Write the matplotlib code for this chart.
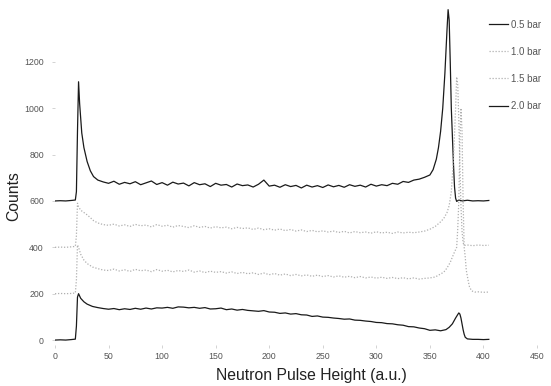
import matplotlib
matplotlib.use("Agg")
import matplotlib.pyplot as plt

plt.rcParams['font.family'] = ['Liberation Sans', 'DejaVu Sans']

# spectra (each curve offset by 200 counts)
x_05 = [0, 5, 10, 15, 19, 20, 21, 22, 23, 25, 27, 30, 33, 36, 40, 45, 50, 55, 60, 65, 70, 75, 80, 85, 90, 95,
        100, 105, 110, 115, 120, 125, 130, 135, 140, 145, 150, 155, 160, 165, 170, 175, 180, 185, 190, 195,
        200, 205, 210, 215, 220, 225, 230, 235, 240, 245, 250, 255, 260, 265, 270, 275, 280, 285, 290, 295,
        300, 305, 310, 315, 320, 325, 330, 335, 340, 345, 350, 353, 356, 358, 360, 362, 364, 366, 367, 368,
        369, 370, 371, 372, 373, 374, 375, 377, 380, 385, 390, 395, 400, 405]
y_05 = [600, 601, 600, 602, 604, 640, 900, 1114, 1020, 893, 830, 770, 730, 705, 690, 682, 676, 685, 672, 680,
        674, 683, 670, 678, 686, 671, 679, 668, 681, 673, 677, 665, 679, 670, 674, 662, 676, 668, 671, 660,
        673, 666, 669, 660, 672, 690, 664, 668, 659, 670, 662, 667, 656, 668, 660, 666, 658, 669, 661, 667,
        659, 670, 663, 668, 660, 672, 664, 670, 666, 676, 672, 684, 680, 690, 694, 702, 712, 735, 780, 830,
        900, 1000, 1150, 1340, 1425, 1380, 1200, 1000, 880, 760, 660, 612, 598, 604, 600, 603, 600, 601,
        600, 602]

x_10 = [0, 5, 10, 15, 19, 20, 21, 22, 24, 27, 30, 33, 36, 40, 45, 50, 55, 60, 65, 70, 75, 80, 85, 90, 95,
        100, 105, 110, 115, 120, 125, 130, 135, 140, 145, 150, 155, 160, 165, 170, 175, 180, 185, 190, 195,
        200, 205, 210, 215, 220, 225, 230, 235, 240, 245, 250, 255, 260, 265, 270, 275, 280, 285, 290, 295,
        300, 305, 310, 315, 320, 325, 330, 335, 340, 345, 350, 355, 360, 363, 366, 368, 370, 372, 374, 375,
        376, 377, 378, 379, 380, 381, 382, 385, 390, 395, 400, 405]
y_10 = [400, 401, 400, 402, 404, 450, 590, 575, 560, 550, 540, 528, 515, 505, 498, 495, 500, 492, 497, 490,
        499, 493, 496, 488, 498, 491, 495, 487, 494, 490, 485, 493, 486, 490, 483, 489, 484, 487, 480, 486,
        481, 484, 477, 483, 476, 480, 474, 479, 472, 477, 470, 475, 468, 473, 467, 471, 466, 470, 464, 469,
        462, 468, 463, 466, 461, 467, 462, 465, 460, 466, 462, 465, 463, 466, 470, 478, 490, 510, 525, 550,
        580, 640, 780, 1000, 1135, 1100, 950, 750, 580, 470, 420, 408, 410, 407, 410, 408, 409]

x_15 = [0, 5, 10, 15, 19, 20, 21, 22, 24, 27, 30, 35, 40, 45, 50, 55, 60, 65, 70, 75, 80, 85, 90, 95,
        100, 105, 110, 115, 120, 125, 130, 135, 140, 145, 150, 155, 160, 165, 170, 175, 180, 185, 190, 195,
        200, 205, 210, 215, 220, 225, 230, 235, 240, 245, 250, 255, 260, 265, 270, 275, 280, 285, 290, 295,
        300, 305, 310, 315, 320, 325, 330, 335, 340, 345, 350, 355, 360, 363, 366, 369, 371, 373, 375, 376,
        377, 378, 379, 380, 381, 382, 383, 384, 386, 387, 389, 392, 395, 400, 405]
y_15 = [200, 201, 200, 201, 203, 260, 410, 400, 370, 345, 330, 315, 308, 302, 300, 306, 298, 303, 296, 305,
        299, 302, 295, 304, 297, 301, 294, 300, 296, 302, 293, 298, 291, 297, 292, 295, 289, 294, 287, 292,
        286, 290, 283, 289, 282, 287, 280, 285, 278, 283, 277, 281, 275, 280, 274, 278, 272, 277, 271, 275,
        269, 274, 268, 272, 267, 271, 266, 270, 265, 269, 264, 268, 263, 266, 268, 272, 285, 293, 311, 335,
        358, 380, 400, 480, 600, 850, 1000, 900, 600, 400, 358, 300, 250, 229, 212, 207, 208, 206, 207]

x_20 = [0, 5, 10, 15, 19, 20, 21, 22, 24, 27, 30, 35, 40, 45, 50, 55, 60, 65, 70, 75, 80, 85, 90, 95,
        100, 105, 110, 115, 120, 125, 130, 135, 140, 145, 150, 155, 160, 165, 170, 175, 180, 185, 190, 195,
        200, 205, 210, 215, 220, 225, 230, 235, 240, 245, 250, 255, 260, 265, 270, 275, 280, 285, 290, 295,
        300, 305, 310, 315, 320, 325, 330, 335, 340, 345, 350, 355, 360, 365, 368, 371, 374, 376, 377, 378,
        379, 380, 381, 382, 383, 385, 390, 395, 400, 405]
y_20 = [0, 1, 0, 2, 4, 60, 185, 200, 180, 165, 155, 145, 140, 136, 133, 136, 131, 135, 132, 137, 133, 138,
        134, 139, 138, 141, 137, 143, 142, 139, 141, 137, 140, 134, 135, 138, 131, 134, 129, 132, 128, 126,
        124, 127, 121, 120, 115, 117, 112, 114, 109, 108, 102, 104, 99, 98, 95, 93, 90, 91, 86, 85, 82, 80,
        76, 75, 71, 70, 66, 64, 58, 57, 52, 49, 42, 44, 40, 45, 55, 70, 95, 110, 117, 112, 95, 70, 45, 25,
        12, 5, 3, 3, 2, 3]

labels = ['0.5 bar', '1.0 bar', '1.5 bar', '2.0 bar']

fig = plt.figure(figsize=(5.51, 3.86), dpi=100)
ax = fig.add_axes([0.0998, 0.107, 0.8748, 0.883])

dark = '#1a1a1a'
light = '#b0b0b0'
ax.plot(x_05, y_05, color=dark, lw=0.9, label=labels[0])
ax.plot(x_10, y_10, color=light, lw=0.9, ls=(0, (1, 1.4)), label=labels[1])
ax.plot(x_15, y_15, color=light, lw=0.9, ls=(0, (1, 1.4)), label=labels[2])
ax.plot(x_20, y_20, color=dark, lw=0.9, label=labels[3])

ax.set_xlim(0, 450)
ax.set_ylim(-20, 1450)
ax.set_xticks(range(0, 451, 50))
ax.set_yticks(range(0, 1201, 200))
for s in ax.spines.values():
    s.set_visible(False)
ax.tick_params(axis='both', length=2, width=0.6, color='#cccccc', labelsize=6.3, labelcolor='#555555')
ax.tick_params(axis='y', pad=6)
ax.tick_params(axis='x', pad=3)

fig.text(0.025, 0.492, 'Counts', rotation=90, ha='center', va='center', fontsize=11.3, color='#222222')
fig.text(0.566, 0.028, 'Neutron Pulse Height (a.u.)', ha='center', va='center', fontsize=11.3, color='#222222')

ax.legend(loc='upper left', bbox_to_anchor=(484 / 551, 1 - 15 / 386), bbox_transform=fig.transFigure,
          fontsize=7, labelspacing=1.75, handlelength=2.0, handletextpad=0.3, frameon=False, borderpad=0,
          labelcolor='#555555')

fig.savefig('out.png', dpi=100)
